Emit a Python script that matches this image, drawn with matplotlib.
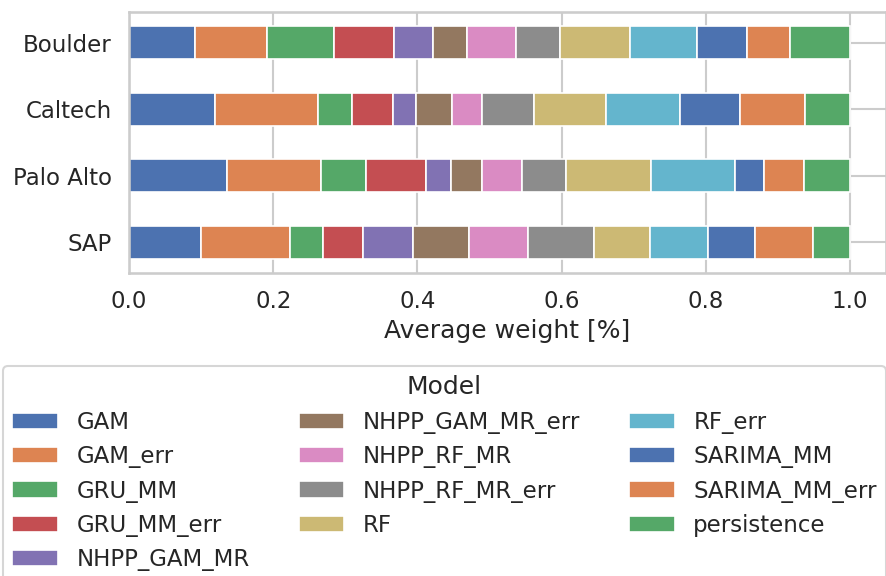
import matplotlib
matplotlib.use("Agg")
import matplotlib.pyplot as plt
import seaborn as sns
import numpy as np

# average model weights per site
sites = ["Boulder", "Caltech", "Palo Alto", "SAP"]
models = ["GAM", "GAM_err", "GRU_MM", "GRU_MM_err", "NHPP_GAM_MR",
          "NHPP_GAM_MR_err", "NHPP_RF_MR", "NHPP_RF_MR_err", "RF", "RF_err",
          "SARIMA_MM", "SARIMA_MM_err", "persistence"]

boulder = [0.0915, 0.0998, 0.0928, 0.0841, 0.0536, 0.0471, 0.0684, 0.0610,
           0.0965, 0.0925, 0.0697, 0.0605, 0.0825]
caltech = [0.1187, 0.1437, 0.0467, 0.0568, 0.0328, 0.0499, 0.0416, 0.0716,
           0.0993, 0.1026, 0.0841, 0.0905, 0.0617]
palo_alto = [0.1363, 0.1307, 0.0615, 0.0831, 0.0357, 0.0424, 0.0559, 0.0610,
             0.1178, 0.1160, 0.0401, 0.0564, 0.0631]
sap = [0.0998, 0.1233, 0.0458, 0.0559, 0.0693, 0.0771, 0.0818, 0.0924,
       0.0767, 0.0814, 0.0646, 0.0803, 0.0516]

sns.set_theme(style="whitegrid", context="talk")
plt.rcParams['font.family'] = ['DejaVu Sans']

weights = np.array([boulder, caltech, palo_alto, sap])
ypos = np.arange(len(sites))[::-1]     # Boulder on top

colors = sns.color_palette("deep", 10)

fig = plt.figure(figsize=(8.87, 5.76), dpi=100)
ax = fig.add_axes([129/887, 1 - 273/576, (886 - 129)/887, (273 - 12)/576])

left = np.zeros(len(sites))
for i, name in enumerate(models):
    ax.barh(ypos, weights[:, i], height=0.5, left=left,
            color=colors[i % 10], edgecolor="white", linewidth=1.2, label=name)
    left += weights[:, i]

ax.set_yticks(ypos)
ax.set_yticklabels(sites)
ax.set_ylim(-0.46, 3.46)
ax.set_xlim(0, 1.05)
ax.set_xticks([0.0, 0.2, 0.4, 0.6, 0.8, 1.0])
ax.set_xlabel("Average weight [%]")

handles, labels = ax.get_legend_handles_labels()
fig.legend(handles, labels, title="Model", ncol=3, loc="upper left",
           bbox_to_anchor=(3/887, 1 - 366/576, (886 - 3)/887, 0),
           mode="expand", borderaxespad=0, fontsize=16.5, title_fontsize=18)

fig.savefig("out.png", dpi=100)
